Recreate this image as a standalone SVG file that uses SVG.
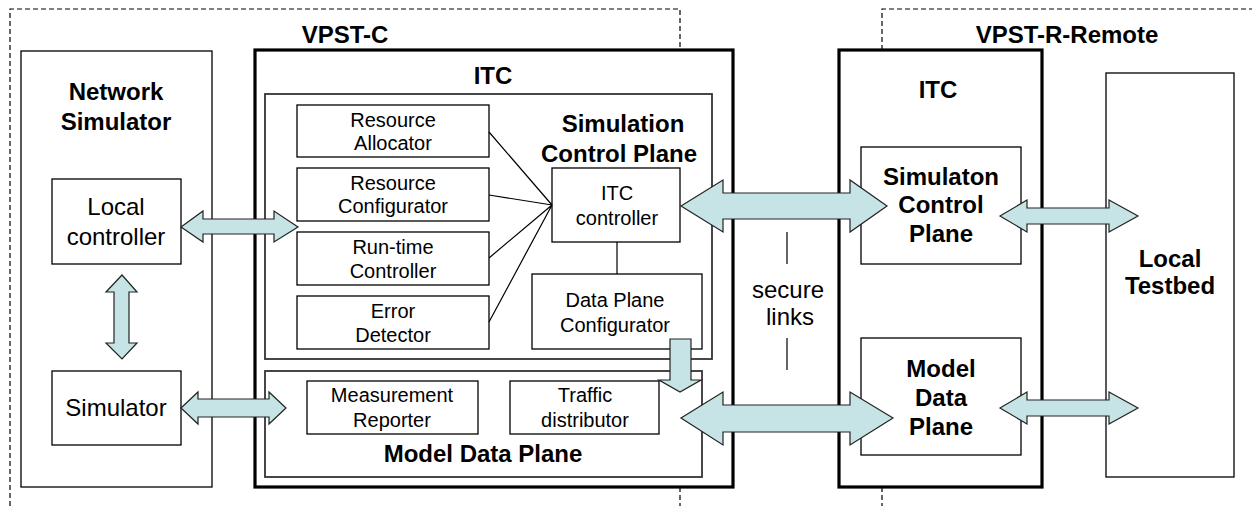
<svg xmlns="http://www.w3.org/2000/svg" width="1252" height="506" viewBox="0 0 1252 506">
<style>
text{font-family:"Liberation Sans",Arial,sans-serif;fill:#000;text-anchor:middle}
.r{font-size:20px}
.m{font-size:24px}
.b{font-size:24px;font-weight:bold}
.box{fill:#fff;stroke:#000;stroke-width:1.3}
.inner{fill:#fff;stroke:#333;stroke-width:1.8}
.thick{fill:#fff;stroke:#000;stroke-width:3.2}
.dash{fill:none;stroke:#000;stroke-width:1.2;stroke-dasharray:5,3}
.arr{fill:#c6e4e6;stroke:#222;stroke-width:1.2;stroke-linejoin:miter}
.ln{stroke:#000;stroke-width:1.2;fill:none}
</style>
<rect width="1252" height="506" fill="#fff"/>
<g id="regions">
<path class="dash" d="M10,506 V9 H680 V50 M680,487 V506"/>
<path class="dash" d="M882,50 V9 H1252 M882,487 V506"/>
<text class="b" x="345" y="43">VPST-C</text>
<text class="b" x="1067" y="43">VPST-R-Remote</text>
</g>
<g id="network-simulator">
<rect class="box" x="21" y="51" width="191" height="436"/>
<text class="b" x="116" y="100">Network</text>
<text class="b" x="116" y="130">Simulator</text>
</g>
<g id="local-controller">
<rect class="box" x="52" y="179" width="129" height="85"/>
<text class="m" x="116" y="215">Local</text>
<text class="m" x="116" y="245">controller</text>
</g>
<g id="simulator">
<rect class="box" x="52" y="371" width="129" height="74"/>
<text class="m" x="116" y="416">Simulator</text>
</g>
<g id="vpst-c-itc">
<rect class="thick" x="255" y="50" width="478" height="437"/>
<text class="b" x="493" y="84">ITC</text>
</g>
<g id="simulation-control-plane">
<rect class="inner" x="265" y="94" width="447" height="265"/>
<text class="b" x="623" y="132">Simulation</text>
<text class="b" x="619" y="162">Control Plane</text>
</g>
<g id="resource-allocator">
<rect class="box" x="297" y="105" width="192" height="52"/>
<text class="r" x="393" y="127">Resource</text>
<text class="r" x="393" y="150">Allocator</text>
</g>
<g id="resource-configurator">
<rect class="box" x="297" y="168" width="192" height="53"/>
<text class="r" x="393" y="190">Resource</text>
<text class="r" x="393" y="213">Configurator</text>
</g>
<g id="runtime-controller">
<rect class="box" x="297" y="232" width="192" height="53"/>
<text class="r" x="393" y="254">Run-time</text>
<text class="r" x="393" y="278">Controller</text>
</g>
<g id="error-detector">
<rect class="box" x="297" y="296" width="192" height="53"/>
<text class="r" x="393" y="318">Error</text>
<text class="r" x="393" y="342">Detector</text>
</g>
<g id="itc-controller">
<rect class="box" x="552" y="168" width="128" height="74"/>
<text class="r" x="617" y="200">ITC</text>
<text class="r" x="617" y="225">controller</text>
</g>
<g id="data-plane-configurator">
<rect class="box" x="532" y="274" width="170" height="75"/>
<text class="r" x="615" y="307">Data Plane</text>
<text class="r" x="615" y="332">Configurator</text>
</g>
<g id="model-data-plane">
<rect class="inner" x="265" y="371" width="437" height="106"/>
<text class="b" x="483" y="462">Model Data Plane</text>
</g>
<g id="measurement-reporter">
<rect class="box" x="307" y="381" width="171" height="53"/>
<text class="r" x="392" y="402">Measurement</text>
<text class="r" x="392" y="427">Reporter</text>
</g>
<g id="traffic-distributor">
<rect class="box" x="510" y="381" width="149" height="53"/>
<text class="r" x="585" y="402">Traffic</text>
<text class="r" x="585" y="427">distributor</text>
</g>
<g id="remote-itc">
<rect class="thick" x="839" y="50" width="203" height="437"/>
<text class="b" x="938" y="98">ITC</text>
</g>
<g id="remote-simulation-control-plane">
<rect class="box" x="861" y="147" width="160" height="117"/>
<text class="b" x="941" y="185">Simulaton</text>
<text class="b" x="941" y="213">Control</text>
<text class="b" x="941" y="242">Plane</text>
</g>
<g id="remote-model-data-plane">
<rect class="box" x="861" y="338" width="160" height="117"/>
<text class="b" x="941" y="377">Model</text>
<text class="b" x="941" y="406">Data</text>
<text class="b" x="941" y="435">Plane</text>
</g>
<g id="local-testbed">
<rect class="box" x="1106" y="73" width="128" height="404"/>
<text class="b" x="1170" y="267">Local</text>
<text class="b" x="1170" y="294">Testbed</text>
</g>
<g id="secure-links">
<text class="m" x="788" y="298">secure</text>
<text class="m" x="790" y="325">links</text>
</g>
<g id="connectors">
<path class="ln" d="M552,205 L489,132 M552,205 L489,195 M552,205 L489,258 M552,205 L489,322 M617,242 V274 M787,232 V264 M787,338 V370"/>
<polygon class="arr" points="681,206 723,180 723,193 850,193 850,180 887,206 850,232 850,219 723,219 723,232"/>
<polygon class="arr" points="681,418 723,392 723,405 850,405 850,392 893,418 850,445 850,432 723,432 723,445"/>
<polygon class="arr" points="181,227 203,211 203,219 274,219 274,211 298,227 274,242 274,234 203,234 203,242"/>
<polygon class="arr" points="122,275 137,292 129,292 129,343 137,343 122,359 106,343 114,343 114,292 106,292"/>
<polygon class="arr" points="181,408 198,392 198,399 269,399 269,392 286,408 269,424 269,417 198,417 198,424"/>
<polygon class="arr" points="1000,216 1027,200 1027,208 1109,208 1109,200 1138,216 1109,232 1109,224 1027,224 1027,232"/>
<polygon class="arr" points="1000,408 1027,392 1027,400 1109,400 1109,392 1138,408 1109,424 1109,416 1027,416 1027,424"/>
<polygon class="arr" points="670,339 691,339 691,380 701,380 680,392 659,380 670,380"/>
</g>
</svg>
